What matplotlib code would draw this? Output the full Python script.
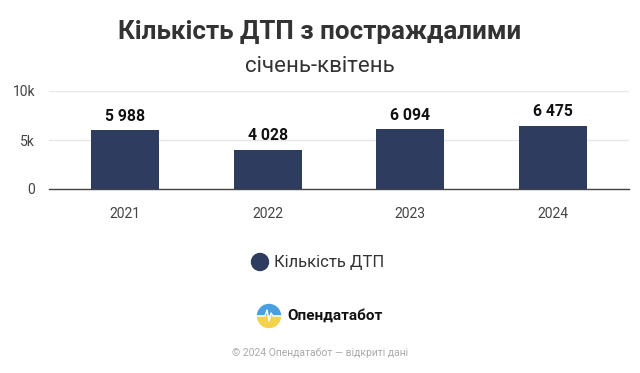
import numpy as np
import matplotlib.pyplot as plt
from matplotlib.patches import Circle, Wedge

plt.rcParams['font.family'] = ['Roboto', 'DejaVu Sans']

years = ['2021', '2022', '2023', '2024']
counts = [5988, 4028, 6094, 6475]
yticks = [0, 5000, 10000]
ytick_labels = ['0', '5k', '10k']

bar_color = '#2e3d5f'
W, H = 640, 373

fig = plt.figure(figsize=(6.4, 3.73), dpi=100)
ax = fig.add_axes([49 / W, 1 - 189 / H, 580 / W, 98 / H])

x = np.arange(len(years))
ax.bar(x, counts, width=0.477, color=bar_color, zorder=3)
for xi, v in zip(x, counts):
    lab = '{:,}'.format(v).replace(',', ' ')
    ax.text(xi, v + 650, lab, ha='center', va='bottom', fontsize=11.3,
            fontweight='bold', color='#111111')

ax.set_xlim(-0.533, len(years) - 1 + 0.533)
ax.set_ylim(0, 10000)
ax.set_yticks(yticks)
ax.set_yticklabels(ytick_labels)
ax.set_xticks(x)
ax.set_xticklabels(years)
ax.grid(axis='y', color='#e8e8e8', linewidth=1, zorder=0)
for s in ['top', 'right', 'left']:
    ax.spines[s].set_visible(False)
ax.spines['bottom'].set_color('#444444')
ax.spines['bottom'].set_linewidth(1)
ax.tick_params(axis='both', length=0, labelsize=10, colors='#444444')
ax.tick_params(axis='x', pad=13)
ax.tick_params(axis='y', pad=10)

fig.text(0.5, 1 - 32 / H, 'Кількість ДТП з постраждалими', ha='center', va='center',
         fontsize=18.7, fontweight='bold', color='#333333')
fig.text(0.5, 1 - 66 / H, 'січень-квітень', ha='center', va='center',
         fontsize=16, color='#333333')

# overlay in pixel coordinates for legend marker and logo
ov = fig.add_axes([0, 0, 1, 1])
ov.set_xlim(0, W)
ov.set_ylim(H, 0)
ov.axis('off')

ov.add_patch(Circle((260, 262), 8.5, color=bar_color))
ov.text(274, 262, 'Кількість ДТП', ha='left', va='center',
        fontsize=12, color='#333333')

# logo: blue top, yellow bottom, white pulse line
cx, cy, r = 269, 316, 11.5
ov.add_patch(Wedge((cx, cy), r, 180, 360, color='#4a9fe0'))
ov.add_patch(Wedge((cx, cy), r, 0, 180, color='#f5d24c'))
px = [cx - r, cx - 4, cx - 2, cx, cx + 2, cx + 4, cx + r]
py = [cy, cy, cy - 6, cy + 5, cy - 3, cy, cy]
ov.plot(px, py, color='white', linewidth=1)
ov.text(287, 316, 'Опендатабот', ha='left', va='center',
        fontsize=11, fontweight='bold', color='#111111')

ov.text(W / 2, 353, '© 2024 Опендатабот — відкриті дані', ha='center',
        va='center', fontsize=7.5, color='#aaaaaa')

fig.savefig('out.png', dpi=100, facecolor='white')
